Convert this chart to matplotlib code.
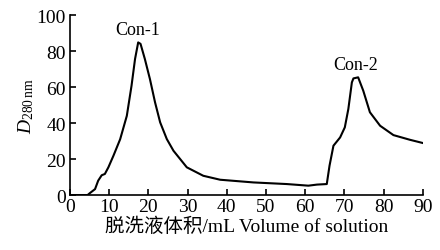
import numpy as np
import matplotlib
matplotlib.use("Agg")
import matplotlib.pyplot as plt

plt.rcParams['font.family'] = ['Liberation Serif', 'Noto Sans CJK SC']
plt.rcParams['mathtext.fontset'] = 'custom'
plt.rcParams['mathtext.rm'] = 'Liberation Serif'
plt.rcParams['mathtext.it'] = 'Liberation Serif:italic'

# elution volume (mL) vs absorbance at 280 nm
volume = [0, 4.5, 5.1, 6.4, 7.2, 8.1, 8.9, 9.8, 11.1, 12.8, 14.5, 15.7, 16.6,
          17.4, 18.0, 19.1, 20.4, 21.7, 23.0, 24.7, 26.4, 28.1, 29.8, 34.0,
          38.3, 46.8, 55.3, 60.8, 63.0, 65.5, 66.2, 67.2, 68.9, 70.1, 71.0,
          71.9, 72.3, 73.5, 74.8, 76.5, 79.1, 82.5, 86.7, 90]
d280 = [0, 0, 1.1, 3.3, 8, 11, 11.7, 15.4, 21.9, 31, 44, 60.7, 75.6,
        84.8, 84, 75.6, 64.4, 51.5, 40.4, 31.1, 24.6, 20, 15.4, 10.7,
        8.5, 7.0, 6.1, 5.2, 5.8, 6.1, 16.3, 27.4, 32, 37.6, 47.8,
        62.6, 64.8, 65.4, 58, 46, 38.5, 33.3, 30.7, 28.9]

peak_names = ["Con-1", "Con-2"]
peak_x = [17.2, 72.8]
peak_y = [87.5, 68]

fig = plt.figure(figsize=(4.4, 2.51), dpi=100)
ax = fig.add_axes([0.159, 0.219, 0.802, 0.717])
ax.plot(volume, d280, color='black', lw=1.5)

for name, x, y in zip(peak_names, peak_x, peak_y):
    ax.text(x, y, name, ha='center', va='bottom', fontsize=13)

ax.set_xlim(0, 90)
ax.set_ylim(0, 100)
ax.set_xticks(np.arange(0, 91, 10))
ax.set_yticks(np.arange(0, 101, 20))
ax.tick_params(direction='in', length=4, width=1.2, labelsize=14)
ax.tick_params(axis='x', pad=2)
ax.tick_params(axis='y', pad=3)
for s in ['top', 'right']:
    ax.spines[s].set_visible(False)
for s in ['left', 'bottom']:
    ax.spines[s].set_linewidth(1.2)

ax.set_xlabel('脱洗液体积/mL Volume of solution', fontsize=14, labelpad=1)
ax.set_ylabel(r'$D_{\mathrm{280\,nm}}$', fontsize=14, labelpad=0)

fig.savefig('out.png', dpi=100)
